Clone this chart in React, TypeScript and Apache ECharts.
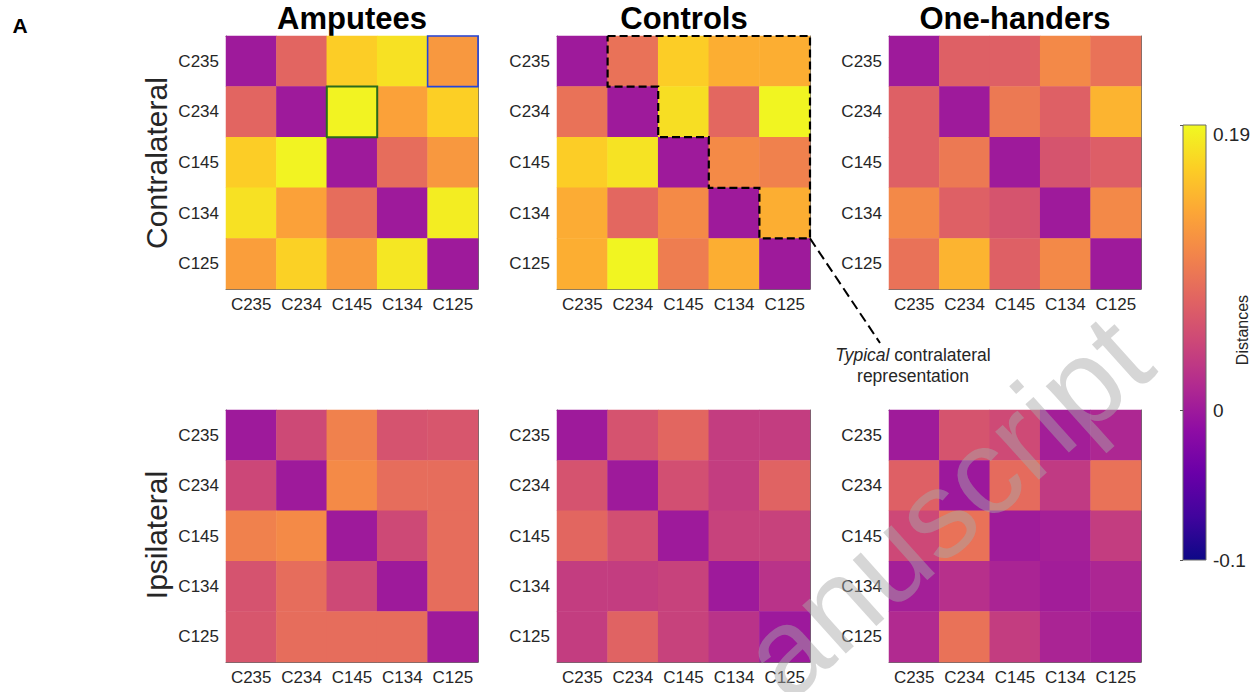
import React, { useEffect, useRef } from 'react';
import * as echarts from 'echarts';

// ---------- data ----------
const CATS = ['C235', 'C234', 'C145', 'C134', 'C125'];
const GROUPS = ['Amputees', 'Controls', 'One-handers'];
const ROW_LABELS = ['Contralateral', 'Ipsilateral'];
const V_MIN = -0.1;
const V_MAX = 0.19;
const COLOR_TICKS = [-0.1, 0, 0.19];
const PLASMA = ['#0d0887', '#41049d', '#6a00a8', '#8f0da4', '#b12a90', '#cc4778', '#e16462', '#f2844b', '#fca636', '#fcce25', '#f0f921'];

// rows: C235..C125 (top to bottom), cols: C235..C125 (left to right)
const ampContra = [
  [0, 0.075, 0.16, 0.174, 0.12],
  [0.075, 0, 0.186, 0.128, 0.162],
  [0.16, 0.186, 0, 0.082, 0.12],
  [0.174, 0.128, 0.082, 0, 0.182],
  [0.125, 0.163, 0.123, 0.178, 0],
];
const ctrlContra = [
  [0, 0.087, 0.16, 0.138, 0.138],
  [0.087, 0, 0.172, 0.077, 0.187],
  [0.16, 0.175, 0, 0.108, 0.1],
  [0.136, 0.077, 0.108, 0, 0.138],
  [0.138, 0.187, 0.097, 0.138, 0],
];
const oneContra = [
  [0, 0.07, 0.07, 0.107, 0.087],
  [0.07, 0, 0.093, 0.07, 0.142],
  [0.07, 0.093, 0, 0.058, 0.068],
  [0.107, 0.07, 0.058, 0, 0.107],
  [0.087, 0.142, 0.07, 0.107, 0],
];
const ampIpsi = [
  [0, 0.047, 0.1, 0.057, 0.06],
  [0.045, 0, 0.108, 0.082, 0.082],
  [0.1, 0.108, 0, 0.047, 0.082],
  [0.057, 0.082, 0.047, 0, 0.082],
  [0.06, 0.082, 0.082, 0.082, 0],
];
const ctrlIpsi = [
  [0, 0.057, 0.076, 0.035, 0.035],
  [0.057, 0, 0.053, 0.035, 0.073],
  [0.076, 0.053, 0, 0.04, 0.04],
  [0.035, 0.035, 0.04, 0, 0.025],
  [0.035, 0.073, 0.04, 0.025, -0.001],
];
const oneIpsi = [
  [0.001, 0.058, 0.048, 0.004, 0.013],
  [0.07, -0.002, 0.08, 0.032, 0.087],
  [0.046, 0.087, 0.001, 0.006, 0.035],
  [0.005, 0.022, 0.01, 0.003, 0.012],
  [0.016, 0.087, 0.035, 0.01, 0.004],
];
const MATRICES = [ampContra, ctrlContra, oneContra, ampIpsi, ctrlIpsi, oneIpsi];

// ---------- layout ----------
const FONT = "'Liberation Sans', Arial, Helvetica, sans-serif";
const GRID_LEFT = [226, 557, 889];
const GRID_W = [252, 253, 252];
const GRID_TOP = [36, 410];
const GRID_H = [253, 252];
const AX = '#6b6b6b';
const TXT = '#262626';

function toData(m: number[][]) {
  const out: number[][] = [];
  m.forEach((row, r) => row.forEach((v, c) => out.push([c, r, v])));
  return out;
}

function buildOption() {
  const grid: any[] = [];
  const xAxis: any[] = [];
  const yAxis: any[] = [];
  const series: any[] = [];
  const tick = { show: true, inside: true, alignWithLabel: true, length: 4, lineStyle: { color: AX } };
  const line = { show: true, lineStyle: { color: AX, width: 1 } };
  for (let r = 0; r < 2; r++) {
    for (let c = 0; c < 3; c++) {
      const g = r * 3 + c;
      grid.push({ left: GRID_LEFT[c], top: GRID_TOP[r], width: GRID_W[c], height: GRID_H[r] });
      xAxis.push({
        type: 'category', gridIndex: g, data: CATS, position: 'bottom',
        axisLine: line, axisTick: tick, splitLine: { show: false },
        axisLabel: { fontSize: 17, color: TXT, fontFamily: FONT, margin: 7, interval: 0 },
      });
      xAxis.push({
        type: 'category', gridIndex: g, data: CATS, position: 'top',
        axisLine: line, axisTick: tick, splitLine: { show: false }, axisLabel: { show: false },
      });
      yAxis.push({
        type: 'category', gridIndex: g, data: CATS, position: 'left', inverse: true,
        axisLine: line, axisTick: tick, splitLine: { show: false },
        axisLabel: { fontSize: 17, color: TXT, fontFamily: FONT, margin: 7, interval: 0 },
      });
      yAxis.push({
        type: 'category', gridIndex: g, data: CATS, position: 'right', inverse: true,
        axisLine: line, axisTick: tick, splitLine: { show: false }, axisLabel: { show: false },
      });
      series.push({
        type: 'heatmap', name: GROUPS[c] + ' ' + ROW_LABELS[r],
        xAxisIndex: 2 * g, yAxisIndex: 2 * g,
        data: toData(MATRICES[g]),
        itemStyle: { borderWidth: 0 },
        emphasis: { disabled: true },
        progressive: 0,
      });
    }
  }
  // colour bar
  const stops = PLASMA.slice().reverse().map((col, i) => ({ offset: i / (PLASMA.length - 1), color: col }));
  grid.push({
    left: 1183, top: 125, width: 23, height: 435, show: true,
    backgroundColor: new echarts.graphic.LinearGradient(0, 0, 0, 1, stops),
    borderColor: AX, borderWidth: 1,
  });
  xAxis.push({ type: 'value', gridIndex: 6, show: false, min: 0, max: 1 });
  yAxis.push({
    type: 'value', gridIndex: 6, min: V_MIN, max: V_MAX, position: 'right',
    axisLine: { show: false }, splitLine: { show: false },
    axisTick: { show: true, inside: true, length: 3, customValues: COLOR_TICKS, lineStyle: { color: '#555' } },
    axisLabel: {
      customValues: COLOR_TICKS, fontSize: 19, color: TXT, fontFamily: FONT, margin: 7,
      verticalAlignMaxLabel: 'top',
      formatter: (v: number) => String(Math.round(v * 100) / 100),
    },
  });

  return {
    animation: false,
    backgroundColor: '#ffffff',
    grid, xAxis, yAxis, series,
    visualMap: {
      type: 'continuous', min: V_MIN, max: V_MAX, show: false, dimension: 2,
      seriesIndex: [0, 1, 2, 3, 4, 5], inRange: { color: PLASMA },
    },
  };
}

function buildGraphics(chart: any) {
  const px = (g: number, col: number, row: number) =>
    chart.convertToPixel({ xAxisIndex: 2 * g, yAxisIndex: 2 * g }, [col, row]) as number[];
  const cell = (g: number) => {
    const a = px(g, 0, 0);
    const b = px(g, 1, 1);
    return { dx: b[0] - a[0], dy: b[1] - a[1] };
  };
  const L = (g: number, col: number) => px(g, col, 0)[0] - cell(g).dx / 2;
  const R = (g: number, col: number) => px(g, col, 0)[0] + cell(g).dx / 2;
  const T = (g: number, row: number) => px(g, 0, row)[1] - cell(g).dy / 2;
  const B = (g: number, row: number) => px(g, 0, row)[1] + cell(g).dy / 2;

  const els: any[] = [];
  els.push({ type: 'text', x: 20, y: 25, style: { text: 'A', font: `bold 21px ${FONT}`, fill: '#000', align: 'center', verticalAlign: 'middle' } });
  const titleX = [352, 684, 1015];
  GROUPS.forEach((t, i) =>
    els.push({ type: 'text', x: titleX[i], y: 18, style: { text: t, font: `bold 31px ${FONT}`, fill: '#000', align: 'center', verticalAlign: 'middle' } })
  );
  const rowY = [163, 535];
  ROW_LABELS.forEach((t, i) =>
    els.push({ type: 'text', x: 156, y: rowY[i], rotation: Math.PI / 2, style: { text: t, font: `30px ${FONT}`, fill: TXT, align: 'center', verticalAlign: 'middle' } })
  );
  els.push({ type: 'text', x: 1242, y: 330, rotation: Math.PI / 2, style: { text: 'Distances', font: `16px ${FONT}`, fill: TXT, align: 'center', verticalAlign: 'middle' } });

  // blue & green highlight boxes (Amputees contralateral)
  els.push({ type: 'rect', z: 50, shape: { x: L(0, 4), y: T(0, 0), width: R(0, 4) - L(0, 4), height: B(0, 0) - T(0, 0) }, style: { fill: 'none', stroke: '#2244dd', lineWidth: 1.6 } });
  els.push({ type: 'rect', z: 50, shape: { x: L(0, 2), y: T(0, 1), width: R(0, 2) - L(0, 2), height: B(0, 1) - T(0, 1) }, style: { fill: 'none', stroke: '#2a6a1c', lineWidth: 2 } });

  // dashed staircase in Controls contralateral
  const g = 1;
  const pts = [
    [L(g, 1), T(g, 0)], [R(g, 4), T(g, 0)], [R(g, 4), B(g, 3)],
    [L(g, 4), B(g, 3)], [L(g, 4), T(g, 3)],
    [L(g, 3), T(g, 3)], [L(g, 3), T(g, 2)],
    [L(g, 2), T(g, 2)], [L(g, 2), T(g, 1)],
    [L(g, 1), T(g, 1)], [L(g, 1), T(g, 0)],
  ];
  els.push({ type: 'polyline', z: 50, shape: { points: pts }, style: { fill: 'none', stroke: '#000', lineWidth: 2.2, lineDash: [8, 4] } });
  els.push({ type: 'line', z: 50, shape: { x1: R(g, 4), y1: B(g, 3), x2: 880, y2: 343 }, style: { stroke: '#000', lineWidth: 2, lineDash: [10, 5] } });
  els.push({
    type: 'text', x: 913, y: 344, z: 50,
    style: {
      text: '{i|Typical} contralateral\nrepresentation',
      font: `17.5px ${FONT}`, fill: TXT, align: 'center', verticalAlign: 'top', lineHeight: 21,
      rich: { i: { fontStyle: 'italic', fontSize: 17.5, fontFamily: FONT, fill: TXT, lineHeight: 21 } },
    },
  });

  // watermark (its first letter lies off the visible part in the original)
  els.push({
    type: 'text', x: 684, y: 742, z: 100, rotation: (42 * Math.PI) / 180,
    style: {
      text: '{m|M}anuscript', font: `123px ${FONT}`, fill: '#a8a8a8', opacity: 0.47, align: 'left', verticalAlign: 'middle',
      rich: { m: { fill: 'rgba(0,0,0,0)', fontSize: 123, fontFamily: FONT } },
    },
  });
  return els;
}

export default function App() {
  const ref = useRef<HTMLDivElement>(null);
  useEffect(() => {
    const chart = echarts.init(ref.current!, null, { renderer: 'svg' });
    chart.setOption(buildOption());
    chart.setOption({ graphic: buildGraphics(chart) });
    return () => chart.dispose();
  }, []);
  return <div ref={ref} style={{ position: 'fixed', left: 0, top: 0, width: 1258, height: 692, background: '#fff' }} />;
}
